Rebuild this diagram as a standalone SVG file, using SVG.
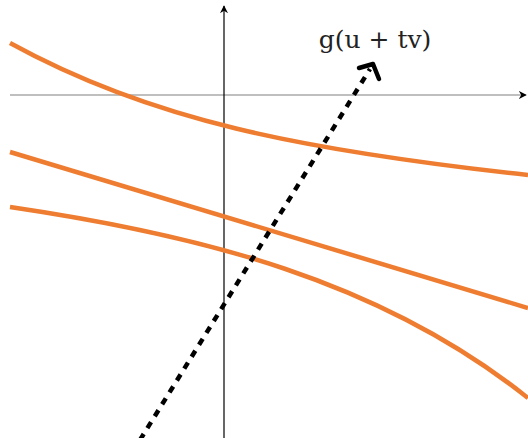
<svg xmlns="http://www.w3.org/2000/svg" width="528" height="438" viewBox="0 0 528 438">
<style>
.curve{fill:none;stroke:#EE7D31;stroke-width:4.5;stroke-linecap:butt}
.axis{fill:none;stroke-width:1.2}
.lbl{font-family:'DejaVu Serif',serif;font-size:25px;fill:#222}
</style>
<defs>
<marker id="ah" viewBox="0 0 10 10" refX="9" refY="5" markerWidth="8" markerHeight="8" markerUnits="userSpaceOnUse" orient="auto">
<path d="M0,0 L10,5 L0,10 L3,5 Z" fill="#000"/>
</marker>
</defs>
<rect width="528" height="438" fill="#fff"/>
<g id="axes">
<line class="axis" x1="10" y1="95" x2="526" y2="95" stroke="#808080" stroke-width="1.5" marker-end="url(#ah)"/>
<line class="axis" x1="224" y1="438" x2="224" y2="6" stroke="#000" marker-end="url(#ah)"/>
</g>
<g id="curves">
<path id="curve1" class="curve" d="M10,43 C150,120 300,150 528,175"/>
<path id="curve2" class="curve" d="M10,152 L528,308"/>
<path id="curve3" class="curve" d="M10,207 C200,235 380,280 528,398"/>
</g>
<g id="connectors">
<line x1="140" y1="440" x2="370" y2="69" stroke="#000" stroke-width="4.5" stroke-dasharray="7,7"/>
<path d="M359,68 L373,64 L379,79" fill="none" stroke="#000" stroke-width="4.5" stroke-linecap="round" stroke-linejoin="round"/>
</g>
<g id="label">
<text class="lbl" x="375" y="48" text-anchor="middle">g(u + tv)</text>
</g>
</svg>
